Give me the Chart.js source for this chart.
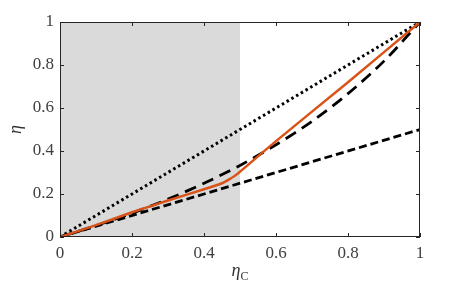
<!DOCTYPE html>
<html>
<head>
<meta charset="utf-8">
<script src="https://cdn.jsdelivr.net/npm/chart.js@4.4.1/dist/chart.umd.min.js"></script>
<style>
  html, body { margin: 0; padding: 0; background: #fff; }
  #wrap { width: 463px; height: 287px; }
</style>
</head>
<body>
<div id="wrap"><canvas id="eff" width="463" height="287"></canvas></div>
<script>
// tick labels
const tickVals = [0, 0.2, 0.4, 0.6, 0.8, 1];

// shaded region (eta_C from 0 to 0.5)
const shadeX = [0, 0.5];
const shadeY = [1, 1];

// orange curve
const orangeX = [0, 0.1, 0.2, 0.3, 0.4, 0.45, 0.47, 0.49, 0.6, 0.8, 1];
const orangeY = [0, 0.055, 0.115, 0.17, 0.222, 0.25, 0.268, 0.29, 0.446, 0.72, 1];

// long-dash curve
const dashX = [0, 0.1, 0.2, 0.3, 0.4, 0.5, 0.6, 0.7, 0.8, 0.9, 1];
const dashY = [0, 0.053, 0.111, 0.176, 0.25, 0.333, 0.429, 0.538, 0.667, 0.818, 1];

// dotted upper bound and short-dash lower bound
const dotX = [0, 1];
const dotY = [0, 1];
const halfX = [0, 1];
const halfY = [0, 0.5];

const pts = (xs, ys) => xs.map((x, i) => ({ x: x, y: ys[i] }));

const serif = "'Liberation Serif', 'DejaVu Serif', serif";

// box + inward tick marks + x title with subscript
const frame = {
  id: 'frame',
  afterDraw(chart) {
    const ctx = chart.ctx;
    const a = chart.chartArea;
    const xs = chart.scales.x, ys = chart.scales.y;
    ctx.save();
    ctx.strokeStyle = '#262626';
    ctx.lineWidth = 1;
    ctx.strokeRect(a.left + 0.5, a.top + 0.5, a.right - a.left - 1, a.bottom - a.top - 1);
    const len = 4;
    ctx.beginPath();
    tickVals.forEach(v => {
      const px = Math.round(xs.getPixelForValue(v)) + 0.5;
      ctx.moveTo(px, a.bottom); ctx.lineTo(px, a.bottom - len);
      ctx.moveTo(px, a.top); ctx.lineTo(px, a.top + len);
      const py = Math.round(ys.getPixelForValue(v)) + 0.5;
      ctx.moveTo(a.left, py); ctx.lineTo(a.left + len, py);
      ctx.moveTo(a.right, py); ctx.lineTo(a.right - len, py);
    });
    ctx.stroke();

    // x axis title: eta_C
    const cx = (a.left + a.right) / 2;
    ctx.fillStyle = '#333';
    ctx.textBaseline = 'alphabetic';
    ctx.font = 'italic 18px ' + serif;
    const w1 = ctx.measureText('η').width;
    ctx.font = '12px ' + serif;
    const w2 = ctx.measureText('C').width;
    const x0 = cx - (w1 + w2) / 2;
    ctx.font = 'italic 18px ' + serif;
    ctx.textAlign = 'left';
    ctx.fillText('η', x0, 276);
    ctx.font = '12px ' + serif;
    ctx.fillText('C', x0 + w1, 280);
    ctx.restore();
  }
};

new Chart(document.getElementById('eff').getContext('2d'), {
  type: 'line',
  data: {
    datasets: [
      { data: pts(orangeX, orangeY), borderColor: '#D95319', borderWidth: 2.5, pointRadius: 0, tension: 0.15, order: 1 },
      { data: pts(dashX, dashY), borderColor: '#000', borderWidth: 2.8, borderDash: [12, 7], pointRadius: 0, tension: 0.3, order: 2 },
      { data: pts(dotX, dotY), borderColor: '#000', borderWidth: 3, borderDash: [2.5, 3], pointRadius: 0, order: 3 },
      { data: pts(halfX, halfY), borderColor: '#000', borderWidth: 2.8, borderDash: [8, 4], pointRadius: 0, order: 4 },
      { data: pts(shadeX, shadeY), borderWidth: 0, borderColor: 'rgba(0,0,0,0)', backgroundColor: '#DADADA', fill: 'start', pointRadius: 0, order: 10 }
    ]
  },
  options: {
    responsive: false,
    animation: false,
    layout: { padding: { top: 22, right: 43, left: 0, bottom: 0 } },
    plugins: { legend: { display: false }, tooltip: { enabled: false } },
    scales: {
      x: {
        type: 'linear', min: 0, max: 1,
        afterBuildTicks: s => { s.ticks = tickVals.map(v => ({ value: v })); },
        afterFit: s => { s.height = 50; },
        grid: { display: false, drawTicks: false },
        border: { display: false },
        ticks: {
          color: '#404040', padding: 6,
          font: { family: serif, size: 17 },
          callback: v => String(v)
        }
      },
      y: {
        type: 'linear', min: 0, max: 1,
        afterBuildTicks: s => { s.ticks = tickVals.map(v => ({ value: v })); },
        afterFit: s => { s.width = 60; },
        grid: { display: false, drawTicks: false },
        border: { display: false },
        title: { display: true, text: 'η', color: '#333', font: { family: serif, size: 18, style: 'italic' }, padding: { top: 5, bottom: 0 } },
        ticks: {
          color: '#404040', padding: 6,
          font: { family: serif, size: 17 },
          callback: v => String(v)
        }
      }
    }
  },
  plugins: [frame]
});
</script>
</body>
</html>
